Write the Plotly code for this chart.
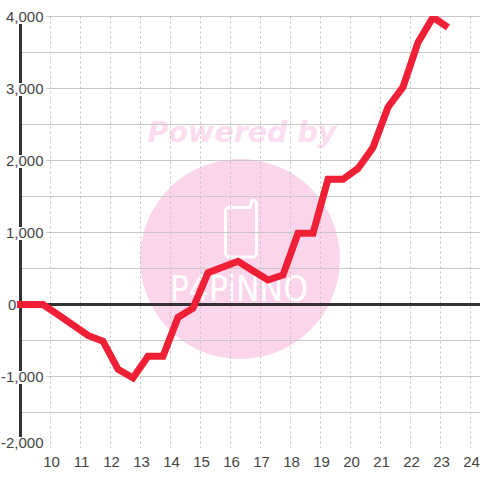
import plotly.graph_objects as go

hours = [8.75, 9.25, 9.75, 10.25, 10.75, 11.25, 11.75, 12.25, 12.75, 13.25, 13.75, 14.25, 14.75,
         15.25, 15.75, 16.25, 16.75, 17.25, 17.75, 18.25, 18.75, 19.25, 19.75, 20.25, 20.75,
         21.25, 21.75, 22.25, 22.75, 23.25]
values = [0, 0, 0, -140, -290, -430, -510, -900, -1020, -720, -720, -180, -50,
          440, 520, 600, 470, 340, 410, 990, 990, 1740, 1740, 1890, 2180,
          2740, 3020, 3640, 3990, 3850]
x_ticks = list(range(10, 25))
y_ticks = [4000, 3000, 2000, 1000, 0, -1000, -2000]
y_labels = ["4,000", "3,000", "2,000", "1,000", "0", "-1,000", "-2,000"]
y_grid = list(range(-2000, 4001, 500))

W, H = 480, 480
L, T, B = 0, 16, 32
PW, PH = W - L, H - T - B
X0 = 10 + (L - 50.5) / 30
X1 = 10 + (W - 50.5) / 30
YMIN, YMAX = -2000, 4000
YSHIFT = 0.5 * (YMAX - YMIN) / PH
INK = "#444444"
AXIS = "#333333"
PINK = "#fbd5ec"
PINK2 = "#fcdcf0"


def px(x):
    return (x - L) / PW


def py(y):
    return (T + PH - y) / PH


def hx(x):
    return 10 + (x - 50.5) / 30


def vy(y):
    return (T + PH - y) / PH * (YMAX - YMIN) + YMIN


GRID_LEFT = hx(20)

fig = go.Figure()

# watermark text (below the grid)
fig.add_trace(go.Scatter(x=[hx(242)], y=[vy(134)], mode="text", text=["Powered by"], hoverinfo="skip",
                         textfont=dict(family="DejaVu Sans", size=28.5, color=PINK2, weight="bold", style="italic"),
                         textposition="middle center", showlegend=False, cliponaxis=False))
fig.add_trace(go.Scatter(x=[hx(239)], y=[vy(292)], mode="text", text=["P4PiNNO"], hoverinfo="skip",
                         textfont=dict(family="DejaVu Sans Condensed, DejaVu Sans", size=35, color="#ffffff"),
                         textposition="middle center", showlegend=False, cliponaxis=False))

# grid
gx, gy = [], []
for v in y_grid:
    gx += [GRID_LEFT, X1, None]
    gy += [v, v, None]
fig.add_trace(go.Scatter(x=gx, y=gy, mode="lines", line=dict(color="#c8c8c8", width=1),
                         hoverinfo="skip", showlegend=False))
vx, vyy = [], []
for t in x_ticks:
    vx += [t, t, None]
    vyy += [YMIN, YMAX, None]
fig.add_trace(go.Scatter(x=vx, y=vyy, mode="lines", line=dict(color="#c0c0c0", width=1, dash="2px,3px"),
                         hoverinfo="skip", showlegend=False))
# axes
fig.add_trace(go.Scatter(x=[GRID_LEFT, X1], y=[0, 0], mode="lines", line=dict(color=AXIS, width=3),
                         hoverinfo="skip", showlegend=False))
fig.add_trace(go.Scatter(x=[hx(20.5), hx(20.5)], y=[YMIN, YMAX], mode="lines", line=dict(color=AXIS, width=3),
                         hoverinfo="skip", showlegend=False, cliponaxis=False))
# data
fig.add_trace(go.Scatter(x=hours, y=values, mode="lines", line=dict(color="#ef2035", width=7),
                         hoverinfo="skip", showlegend=False, cliponaxis=False))

shapes = [
    dict(type="circle", xref="paper", yref="paper", x0=px(140), x1=px(340), y0=py(359), y1=py(159),
         fillcolor=PINK, line=dict(width=0), layer="below"),
]
pts = [(228, 207.5), (250, 207.5), (252, 200.5), (255, 200.5), (256.5, 203), (256.5, 254), (254, 257),
       (228, 257), (225.5, 254), (225.5, 210)]
path = "M " + " L ".join(f"{px(a):.4f},{py(b):.4f}" for a, b in pts) + " Z"
shapes.append(dict(type="path", xref="paper", yref="paper", path=path, line=dict(color="#ffffff", width=3),
                   fillcolor="rgba(0,0,0,0)", layer="below"))

annotations = []
for v, lab in zip(y_ticks, y_labels):
    ycen = T + (YMAX - v) / (YMAX - YMIN) * PH
    if v == -2000:
        ycen -= 6
    right = 17 if v == 0 else 46
    tr = 16 if v == 0 else 43.5
    left = 6 if v == 0 else 0
    shapes.append(dict(type="rect", xref="paper", yref="paper", x0=px(left), x1=px(right),
                       y0=py(ycen + 8), y1=py(ycen - 5), fillcolor="#ffffff", line=dict(width=0), layer="above"))
    annotations.append(dict(xref="paper", yref="paper", x=px(tr), y=py(ycen + 0.5), text=lab, showarrow=False,
                            xanchor="right", yanchor="middle", borderpad=0, borderwidth=0,
                            font=dict(family="Liberation Sans", size=15, color=INK)))

fig.update_layout(
    width=W, height=H, autosize=False,
    margin=dict(l=L, r=0, t=T, b=B),
    paper_bgcolor="#ffffff", plot_bgcolor="rgba(0,0,0,0)",
    xaxis=dict(range=[X0, X1], tickvals=x_ticks, ticktext=[str(t) for t in x_ticks], showgrid=False, zeroline=False,
               showline=False, ticks="", fixedrange=True, ticklabelstandoff=3, ticklabelshift=1,
               tickfont=dict(family="Liberation Sans", size=15, color=INK)),
    yaxis=dict(range=[YMIN + YSHIFT, YMAX + YSHIFT], showgrid=False, zeroline=False, showticklabels=False,
               ticks="", fixedrange=True),
    shapes=shapes, annotations=annotations, showlegend=False,
)
fig.write_html("out.html", config={"displayModeBar": False},
               post_script="document.body.style.margin='0';document.documentElement.style.overflow='hidden';")
